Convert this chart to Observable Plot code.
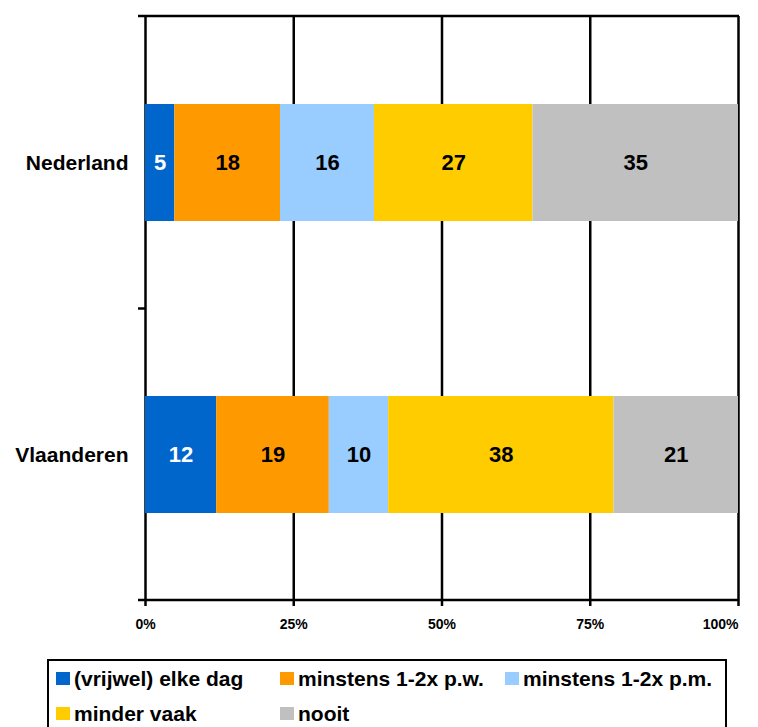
<!DOCTYPE html>
<html>
<head>
<meta charset="utf-8">
<script src="https://cdn.jsdelivr.net/npm/d3@7"></script>
<script src="https://cdn.jsdelivr.net/npm/@observablehq/plot@0.6"></script>
<style>
  body { margin: 0; background: #fff; font-family: "Liberation Sans", Arial, sans-serif; }
  #chart { width: 758px; }
  #chart svg { display: block; }
  #legend {
    margin: 14px 0 0 47px; width: 680px; height: 80px;
    border: 2px solid #000; box-sizing: border-box; background: #fff;
    display: grid; grid-template-columns: 224px 225px auto; grid-auto-rows: 35px;
    padding: 0 0 0 7px; font-weight: bold; font-size: 21px; color: #000;
  }
  .item { display: flex; align-items: center; white-space: nowrap; }
  .sw { width: 14px; height: 13px; margin-right: 4px; flex: none; }
</style>
</head>
<body>
<div id="chart"></div>
<div id="legend"></div>
<script>
// Frequency per region, percentages per answer category
const countries = ["Nederland", "Vlaanderen"];
const series = ["(vrijwel) elke dag", "minstens 1-2x p.w.", "minstens 1-2x p.m.", "minder vaak", "nooit"];
const nederland = [5, 18, 16, 27, 35];
const vlaanderen = [12, 19, 10, 38, 21];
const colors = ["#0066CC", "#FF9900", "#99CCFF", "#FFCC00", "#C0C0C0"];
const xTicks = [0, 0.25, 0.5, 0.75, 1];
const xTickLabels = ["0%", "25%", "50%", "75%", "100%"];

const rows = [];
countries.forEach((c, i) => {
  const vals = i === 0 ? nederland : vlaanderen;
  series.forEach((s, j) => rows.push({country: c, series: s, value: vals[j]}));
});

const stack = (opts) => Plot.stackX({offset: "normalize"}, {x: "value", y: "country", ...opts});
const tickLabel = d => xTickLabels[xTicks.indexOf(d)];
const axisStyle = {
  tickFormat: tickLabel, tickSize: 6, tickPadding: 13,
  strokeWidth: 2.5, fontSize: 14, fontWeight: "bold", color: "#000", label: null
};

const plot = Plot.plot({
  width: 758,
  height: 645,
  marginLeft: 145,
  marginRight: 20,
  marginTop: 16,
  marginBottom: 45,
  style: {fontFamily: "'Liberation Sans', Arial, sans-serif", background: "#fff", color: "#000"},
  x: {domain: [0, 1], label: null},
  y: {domain: countries, paddingInner: 0.6, paddingOuter: 0.3, label: null},
  color: {domain: series, range: colors},
  marks: [
    Plot.gridX(xTicks, {stroke: "#000", strokeOpacity: 1, strokeWidth: 2.5}),
    Plot.barX(rows, stack({fill: "series"})),
    Plot.text(rows, stack({
      text: d => d.series === series[0] ? d.value : null,
      fill: "#fff", fontSize: 22, fontWeight: "bold"
    })),
    Plot.text(rows, stack({
      text: d => d.series === series[0] ? null : d.value,
      fill: "#000", fontSize: 22, fontWeight: "bold"
    })),
    Plot.axisX(xTicks.slice(0, -1), axisStyle),
    Plot.axisX(xTicks.slice(-1), {...axisStyle, textAnchor: "end"}),
    Plot.axisY({tickSize: 0, tickPadding: 17, fontSize: 21, fontWeight: "bold", color: "#000", label: null})
  ]
});

// plot-area border lines and category separator tick, placed from the scales
const xs = plot.scale("x"), ys = plot.scale("y");
const x0 = xs.apply(0), x1 = xs.apply(1);
const [yTop, yBottom] = ys.range;
const centers = countries.map(c => ys.apply(c) + ys.bandwidth / 2);
const yMid = (centers[0] + centers[1]) / 2;
const g = d3.select(plot).append("g").attr("stroke", "#000").attr("stroke-width", 2.5);
g.append("line").attr("x1", x0 - 7).attr("x2", x1 + 1).attr("y1", yTop).attr("y2", yTop);
g.append("line").attr("x1", x0 - 7).attr("x2", x1 + 1).attr("y1", yBottom).attr("y2", yBottom);
g.append("line").attr("x1", x0 - 7).attr("x2", x0).attr("y1", yMid).attr("y2", yMid);

document.getElementById("chart").appendChild(plot);

// legend box below the chart
const legendBox = document.getElementById("legend");
series.forEach((s, i) => {
  const item = document.createElement("div");
  item.className = "item";
  const sw = document.createElement("span");
  sw.className = "sw";
  sw.style.background = colors[i];
  item.appendChild(sw);
  item.appendChild(document.createTextNode(s));
  legendBox.appendChild(item);
});
</script>
</body>
</html>
